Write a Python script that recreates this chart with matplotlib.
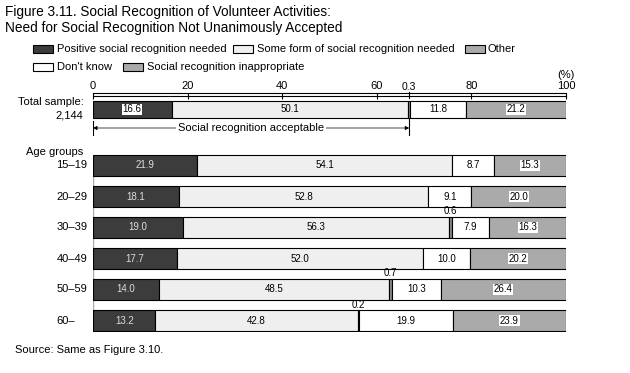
"""
Figure 3.11 - social recognition of volunteer activities (stacked horizontal bars)
"""

import matplotlib
matplotlib.use('Agg')
import matplotlib.pyplot as plt
from matplotlib.patches import Rectangle

plt.rcParams['font.family'] = ['Liberation Sans', 'DejaVu Sans']

# data
groups = ['Total sample', '15\u201319', '20\u201329', '30\u201339', '40\u201349', '50\u201359', '60\u2013']
positive = [16.6, 21.9, 18.1, 19.0, 17.7, 14.0, 13.2]
some_form = [50.1, 54.1, 52.8, 56.3, 52.0, 48.5, 42.8]
other = [0.3, 0.0, 0.0, 0.6, 0.0, 0.7, 0.2]
dont_know = [11.8, 8.7, 9.1, 7.9, 10.0, 10.3, 19.9]
inappropriate = [21.2, 15.3, 20.0, 16.3, 20.2, 26.4, 23.9]
xticks = [0, 20, 40, 60, 80, 100]

series = [positive, some_form, other, dont_know, inappropriate]
names = ['Positive social recognition needed', 'Some form of social recognition needed',
         'Other', "Don't know", 'Social recognition inappropriate']
colors = ['#3c3c3c', '#efefef', '#8a8a8a', '#ffffff', '#aaaaaa']

# layout (y in pixel-like units from top of axes)
W, H = 630, 373
row_y = [109.5, 165.5, 196.5, 227.5, 258.5, 289.5, 320.5]
row_h = [17, 21, 21, 21, 21, 21, 21]

fig = plt.figure(figsize=(W / 100, H / 100), dpi=100)
ax = fig.add_axes([93 / W, 1 - 332 / H, (566 - 93) / W, (332 - 96) / H])
ax.set_xlim(0, 100)
ax.set_ylim(332, 96)
for s in ['left', 'right', 'bottom']:
    ax.spines[s].set_visible(False)
ax.spines['top'].set_linewidth(0.8)
ax.xaxis.tick_top()
ax.set_xticks(xticks)
ax.tick_params(axis='x', direction='inout', length=5, width=0.8, labelsize=8, pad=1)
ax.set_yticks([])
# double-line look of the scale
ax.plot([0, 100], [93, 93], color='black', lw=0.8, clip_on=False)

# faint left guide between age bars
ax.plot([0, 0], [row_y[1], row_y[-1]], color='#aaaaaa', lw=1, zorder=0)

for i in range(len(groups)):
    left = 0
    for k, vals in enumerate(series):
        v = vals[i]
        if v > 0:
            ax.barh(row_y[i], v, left=left, height=row_h[i], color=colors[k],
                    edgecolor='black', linewidth=0.8, zorder=2)
        cx = left + v / 2
        if k == 2:
            if v > 0:
                if i == 0:
                    ax.plot([cx, cx], [98, 92], color='black', lw=0.8, clip_on=False)
                    ax.text(cx, 91.5, f'{v:.1f}', ha='center', va='bottom', fontsize=7.5)
                else:
                    ax.text(cx, row_y[i] - row_h[i] / 2 - 0.5, f'{v:.1f}',
                            ha='center', va='bottom', fontsize=7)
        elif k == 0:
            if i == 0:
                ax.text(cx, row_y[i], f'{v:.1f}', ha='center', va='center', fontsize=7,
                        bbox=dict(facecolor='white', edgecolor='none', pad=0.5), zorder=3)
            else:
                ax.text(cx, row_y[i], f'{v:.1f}', ha='center', va='center', fontsize=7,
                        color='#dddddd', zorder=3)
        elif k == 4:
            ax.text(cx, row_y[i], f'{v:.1f}', ha='center', va='center', fontsize=7,
                    bbox=dict(facecolor='white', edgecolor='none', pad=0.5), zorder=3)
        else:
            ax.text(cx, row_y[i], f'{v:.1f}', ha='center', va='center', fontsize=7, zorder=3)
        left += v

ax.text(100, 75, '(%)', ha='center', va='center', fontsize=8, clip_on=False)

# bracket: social recognition acceptable
acc_end = positive[0] + some_form[0] + other[0] / 2
by = 128
ax.plot([0, 0], [by - 7, by + 7], color='black', lw=0.8)
ax.plot([acc_end, acc_end], [by - 9, by + 7], color='black', lw=0.8)
ax.annotate('', xy=(0, by), xytext=(acc_end / 2, by),
            arrowprops=dict(arrowstyle='-|>', lw=0.5, color='black', mutation_scale=6, shrinkA=0, shrinkB=0))
ax.annotate('', xy=(acc_end, by), xytext=(acc_end / 2, by),
            arrowprops=dict(arrowstyle='-|>', lw=0.5, color='black', mutation_scale=6, shrinkA=0, shrinkB=0))
ax.text(acc_end / 2, by, 'Social recognition acceptable', ha='center', va='center', fontsize=8,
        bbox=dict(facecolor='white', edgecolor='none', pad=1.5), zorder=3)

# row labels
ax.text(-2, 102, 'Total sample:', ha='right', va='center', fontsize=8, clip_on=False)
ax.text(-2, 116, '2,144', ha='right', va='center', fontsize=8, clip_on=False)
ax.text(-2, 152, 'Age groups', ha='right', va='center', fontsize=8, clip_on=False)
for i in range(1, len(groups)):
    ax.text(-7.7, row_y[i], groups[i], ha='left', va='center', fontsize=8, clip_on=False)

# title
fig.text(5 / W, 1 - 5 / H, 'Figure 3.11. Social Recognition of Volunteer Activities:\n'
         'Need for Social Recognition Not Unanimously Accepted',
         ha='left', va='top', fontsize=9.8, linespacing=1.2)

# legend
leg_items = [(33, 49, 0), (233, 49, 1), (465, 49, 2), (33, 67, 3), (123, 67, 4)]
leg_cols = ['#3c3c3c', '#efefef', '#aaaaaa', '#ffffff', '#aaaaaa']
for px, py, k in leg_items:
    fig.patches.append(Rectangle((px / W, 1 - (py + 4) / H), 20 / W, 8 / H,
                                 transform=fig.transFigure, facecolor=leg_cols[k],
                                 edgecolor='black', linewidth=0.8))
    fig.text((px + 24 if k != 2 else px + 22) / W, 1 - py / H, names[k],
             ha='left', va='center', fontsize=8)

fig.text(15 / W, 1 - 350 / H, 'Source: Same as Figure 3.10.', ha='left', va='center', fontsize=8)

fig.savefig('out.png', dpi=100)
plt.close(fig)
